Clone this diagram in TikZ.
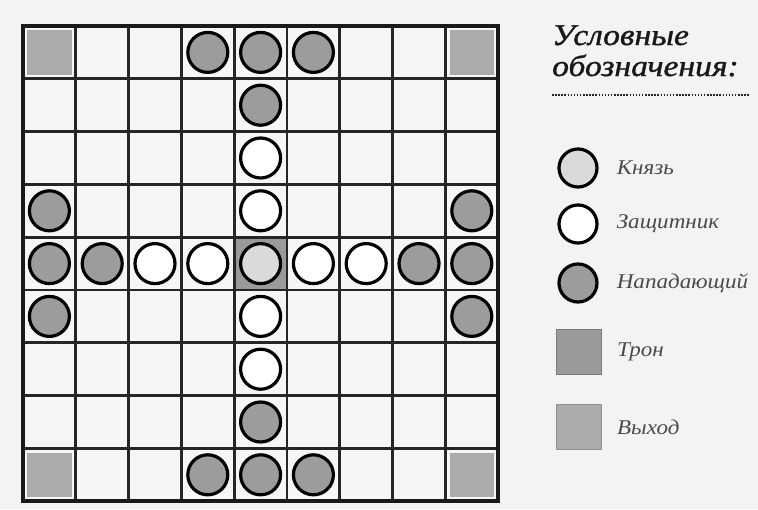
\documentclass[tikz,border=0pt]{standalone}
\usepackage{xcolor}
\usepackage{fontspec}
\setmainfont{Liberation Serif}
\newfontfamily\legendfont[FakeStretch=1.1]{Liberation Serif}
\newfontfamily\titlefont[FakeStretch=1.12, FakeBold=1.2]{Liberation Serif}
\usetikzlibrary{positioning}

\definecolor{paper}{HTML}{F3F3F3}
\definecolor{cellbg}{HTML}{F6F6F6}
\definecolor{attackgray}{HTML}{9C9C9C}
\definecolor{kinggray}{HTML}{DADADA}
\definecolor{thronegray}{HTML}{9A9A9A}
\definecolor{exitgray}{HTML}{ABABAB}
\definecolor{labelgray}{HTML}{4A4A4A}

\begin{document}
\begin{tikzpicture}[x=1pt, y=-1pt,
    piece/.style={circle, draw=black, line width=3.2pt, minimum size=40pt, inner sep=0pt},
    attacker/.style={piece, fill=attackgray},
    defender/.style={piece, fill=white},
    king/.style={piece, fill=kinggray},
    legendtext/.style={font=\legendfont\itshape\fontsize{21}{24}\selectfont, text=labelgray, inner sep=0pt},
    legendtitle/.style={anchor=base west, inner sep=0pt, font=\titlefont\itshape\fontsize{30}{34}\selectfont, text=black!90}
]

% Page
\fill[paper] (0,0) rectangle (758,509);

% Board: 9x9 cells
\begin{scope}[shift={(23,26)}, x=52.8pt, y=-52.8pt]
  \fill[cellbg] (0,0) rectangle (9,9);
  % Throne and exits
  \fill[thronegray] (4,4) rectangle (5,5);
  \foreach \c/\r in {0/0, 8/0, 0/8, 8/8}
    \fill[exitgray] (\c+0.08,\r+0.08) rectangle (\c+0.92,\r+0.92);
  % Grid
  \foreach \i in {1,...,8} {
    \draw[line width=2.8pt, black!85] (\i,0) -- (\i,9);
    \draw[line width=2.8pt, black!85] (0,\i) -- (9,\i);
  }
  \draw[line width=3.8pt, black!90] (0,0) rectangle (9,9);

  % Attackers
  \foreach \c/\r in {3/0, 4/0, 5/0, 4/1, 0/3, 8/3, 0/4, 1/4, 7/4, 8/4,
                     0/5, 8/5, 4/7, 3/8, 4/8, 5/8}
    \node[attacker] (att-\c-\r) at (\c+0.5,\r+0.5) {};
  % Defenders
  \foreach \c/\r in {4/2, 4/3, 2/4, 3/4, 5/4, 6/4, 4/5, 4/6}
    \node[defender] (def-\c-\r) at (\c+0.5,\r+0.5) {};
  % King
  \node[king] (king) at (4.5,4.5) {};
\end{scope}

% Legend
\node[legendtitle] (title1) at (552,45) {Условные};
\node[legendtitle] (title2) at (552,76) {обозначения:};
\draw[line width=1.9pt, dash pattern=on 1.5pt off 1.6pt, black!85] (552,95) -- (750,95);

\node[king, minimum size=38pt] (lking) at (578,168) {};
\node[defender, minimum size=38pt] (ldef) at (578,224) {};
\node[attacker, minimum size=38pt] (latt) at (578,283) {};
\node[rectangle, fill=thronegray, draw=thronegray!80!black, line width=0.8pt, minimum size=45pt, inner sep=0pt] (lthrone) at (579,352) {};
\node[rectangle, fill=exitgray, draw=exitgray!85!black, line width=0.8pt, minimum size=45pt, inner sep=0pt] (lexit) at (579,427) {};

\node[legendtext, right=18pt of lking] {Князь};
\node[legendtext, right=18pt of ldef] {Защитник};
\node[legendtext, right=18pt of latt] {Нападающий};
\node[legendtext, right=15pt of lthrone] {Трон};
\node[legendtext, right=15pt of lexit] {Выход};

\end{tikzpicture}
\end{document}
